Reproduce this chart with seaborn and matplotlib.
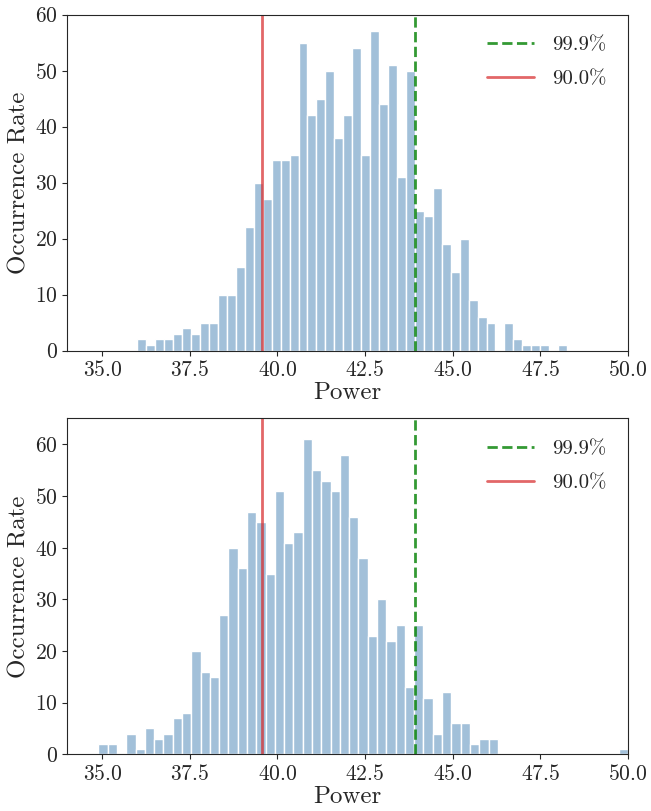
import numpy as np
import pandas as pd
import matplotlib
matplotlib.use('Agg')
import matplotlib.pyplot as plt
import seaborn as sns

# counts per bin
top_counts = [2, 1, 2, 2, 3, 4, 3, 5, 5, 10, 10, 15, 22, 30, 27, 34, 34, 35, 55, 42,
              45, 50, 38, 42, 54, 35, 57, 44, 51, 31, 50, 25, 24, 29, 19, 14, 20, 9,
              6, 5, 0, 5, 2, 1, 1, 1, 0, 1]
top_start, top_width = 36.0, 0.2556

bottom_counts = [2, 2, 0, 4, 1, 5, 3, 4, 7, 8, 20, 16, 15, 27, 40, 36, 47, 45, 35, 51,
                 41, 43, 61, 55, 53, 51, 58, 46, 38, 23, 30, 22, 25, 13, 25, 11, 4, 12,
                 6, 6, 2, 3, 3, 0, 0, 0, 0, 0, 0, 0, 0, 0, 0, 0, 0, 0, 1]
bottom_start, bottom_width = 34.886, 0.2652

# thresholds
p999 = 43.94
p900 = 39.57

sns.set_style('ticks')
plt.rcParams['font.family'] = 'serif'
plt.rcParams['font.serif'] = ['cmr10']
plt.rcParams['mathtext.fontset'] = 'cm'
plt.rcParams['axes.formatter.use_mathtext'] = True

fig, axes = plt.subplots(2, 1, figsize=(6.51, 8.11), dpi=100)
fig.subplots_adjust(left=0.1034, right=0.9643, top=0.9819, bottom=0.0699, hspace=0.2018)

panels = [(top_counts, top_start, top_width, 60),
          (bottom_counts, bottom_start, bottom_width, 65.05)]

for ax, (counts, start, width, ymax) in zip(axes, panels):
    edges = start + width * np.arange(len(counts) + 1)
    df = pd.DataFrame({'power': (edges[:-1] + edges[1:]) / 2, 'count': counts})
    sns.histplot(data=df, x='power', weights='count', bins=list(edges), ax=ax,
                 color='steelblue', alpha=0.5, edgecolor='white', linewidth=1)
    ax.axvline(p999, color='green', alpha=0.8, ls='--', lw=2, label='99.9%')
    ax.axvline(p900, color='tab:red', alpha=0.7, lw=2, label='90.0%')
    ax.set_xlim(34, 50)
    ax.set_ylim(0, ymax)
    ax.set_xticks([35, 37.5, 40, 42.5, 45, 47.5, 50])
    ax.set_xlabel('Power', fontsize=18, labelpad=1)
    ax.set_ylabel('Occurrence Rate', fontsize=18, labelpad=3)
    ax.tick_params(labelsize=15.5)
    ax.legend(loc='upper right', frameon=False, fontsize=15,
              handlelength=2.25, handletextpad=0.9, labelspacing=0.75,
              borderaxespad=0.6)

plt.savefig('out.png', dpi=100)
